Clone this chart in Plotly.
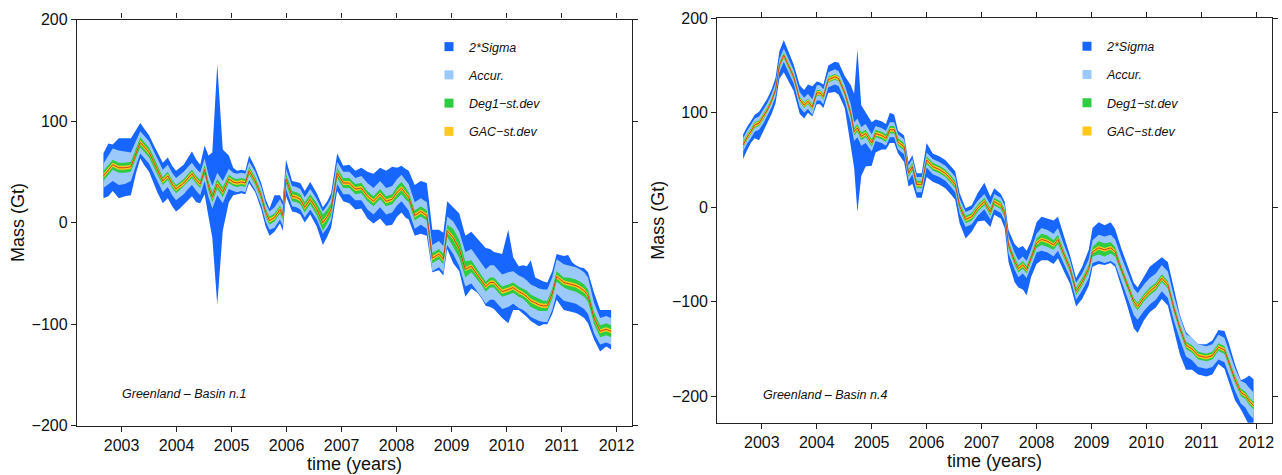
import plotly.graph_objects as go

# ---------------- Basin n.1 (left panel) ----------------
t1 = [2002.67, 2002.76, 2002.84, 2002.95, 2003.06, 2003.17, 2003.26, 2003.34, 2003.42, 2003.50,
      2003.58, 2003.65, 2003.75, 2003.84, 2003.92, 2003.99, 2004.06, 2004.13, 2004.21, 2004.28,
      2004.36, 2004.43, 2004.51, 2004.58, 2004.65, 2004.74, 2004.84, 2004.95, 2005.03, 2005.10,
      2005.18, 2005.25, 2005.32, 2005.43, 2005.54, 2005.62, 2005.69, 2005.78, 2005.88, 2005.93,
      2005.99, 2006.10, 2006.18, 2006.25, 2006.33, 2006.43, 2006.55, 2006.66, 2006.74, 2006.81,
      2006.92, 2007.03, 2007.14, 2007.25, 2007.36, 2007.47, 2007.58, 2007.70, 2007.81, 2007.92,
      2008.01, 2008.09, 2008.16, 2008.22, 2008.33, 2008.44, 2008.55, 2008.65, 2008.77, 2008.85,
      2008.92, 2009.03, 2009.14, 2009.25, 2009.36, 2009.47, 2009.55, 2009.62, 2009.70, 2009.77,
      2009.85, 2009.92, 2010.03, 2010.12, 2010.22, 2010.30, 2010.37, 2010.44, 2010.52, 2010.59,
      2010.67, 2010.74, 2010.83, 2010.91, 2011.04, 2011.12, 2011.19, 2011.26, 2011.33, 2011.41,
      2011.48, 2011.59, 2011.70, 2011.81, 2011.90]
mass1 = [46, 52, 57, 54, 54, 55, 68, 79, 74, 69,
         60, 52, 41, 46, 38, 33, 36, 39, 44, 48,
         42, 38, 52, 36, 25, 38, 30, 43, 40, 39,
         40, 39, 51, 41, 26, 10, 2, 5, 13, 7,
         43, 26, 25, 23, 15, 23, 13, 0, 6, 13,
         49, 39, 39, 33, 34, 26, 21, 28, 21, 23,
         30, 34, 29, 25, 7, 11, 7, -35, -31, -36,
         -8, -15, -26, -46, -43, -51, -57, -63, -59, -59,
         -64, -68, -66, -64, -68, -70, -73, -77, -79, -81,
         -82, -82, -70, -53, -59, -60, -61, -62, -64, -67,
         -72, -94, -107, -105, -107]
gac1 = [2] * 105
deg1_1 = [5, 5, 5, 5, 5, 5, 5, 5, 5, 5,
          5, 5, 4, 4, 4, 4, 4, 4, 4, 4,
          4, 4, 5, 5, 5, 5, 5, 4, 4, 4,
          4, 4, 4, 4, 4, 4, 4, 4, 4, 4,
          5, 5, 5, 5, 5, 5, 6, 8, 7, 6,
          5, 5, 5, 5, 5, 5, 5, 5, 5, 5,
          6, 6, 6, 5, 5, 5, 5, 5, 5, 5,
          6, 9, 9, 8, 6, 5, 5, 5, 5, 5,
          5, 5, 5, 5, 5, 5, 6, 6, 6, 6,
          5, 5, 5, 5, 5, 6, 6, 6, 6, 6,
          6, 6, 6, 6, 6]
acc1 = [12, 14, 16, 17, 16, 14, 12, 11, 11, 11,
        11, 11, 11, 11, 11, 11, 11, 11, 11, 11,
        11, 11, 11, 11, 11, 11, 11, 10, 9, 9,
        9, 9, 9, 9, 9, 9, 9, 10, 10, 10,
        10, 10, 10, 10, 10, 10, 10, 11, 11, 11,
        11, 11, 11, 11, 12, 13, 13, 13, 13, 13,
        13, 13, 13, 13, 13, 13, 13, 13, 13, 13,
        14, 16, 17, 17, 17, 17, 17, 17, 17, 17,
        17, 17, 17, 16, 16, 16, 16, 16, 16, 16,
        16, 16, 16, 17, 18, 18, 18, 18, 18, 18,
        18, 15, 13, 13, 13]
sig_up1 = [22, 26, 20, 29, 29, 28, 23, 19, 18, 17,
           17, 17, 18, 18, 18, 18, 18, 18, 20, 22,
           20, 19, 24, 30, 44, 118, 42, 23, 14, 12,
           12, 12, 15, 13, 13, 13, 12, 22, 14, 14,
           19, 15, 15, 16, 16, 17, 16, 15, 15, 16,
           19, 17, 18, 18, 20, 24, 27, 26, 30, 32,
           24, 22, 24, 26, 30, 30, 32, 28, 24, 26,
           29, 30, 35, 33, 34, 35, 36, 38, 33, 30,
           34, 37, 59, 30, 25, 28, 30, 40, 25, 25,
           24, 23, 22, 22, 26, 28, 22, 20, 20, 22,
           23, 25, 21, 19, 21]
sig_dn1 = [22, 26, 26, 30, 28, 28, 20, 16, 18, 19,
           20, 22, 22, 22, 22, 22, 22, 22, 22, 22,
           22, 19, 24, 30, 40, 119, 38, 23, 13, 11,
           11, 11, 12, 11, 13, 14, 15, 14, 14, 15,
           17, 15, 15, 15, 15, 15, 17, 22, 20, 18,
           18, 18, 20, 20, 20, 22, 22, 24, 24, 25,
           24, 24, 24, 22, 20, 22, 20, 14, 16, 16,
           18, 25, 22, 27, 22, 18, 18, 19, 24, 26,
           26, 26, 33, 22, 18, 20, 20, 20, 21, 21,
           18, 18, 20, 23, 27, 27, 27, 27, 27, 27,
           27, 21, 20, 17, 18]

# ---------------- Basin n.4 (right panel) ----------------
t4 = [2002.66, 2002.73, 2002.80, 2002.87, 2002.95, 2003.03, 2003.10, 2003.18, 2003.25, 2003.32,
      2003.40, 2003.47, 2003.58, 2003.69, 2003.77, 2003.84, 2003.92, 2004.00, 2004.06, 2004.12,
      2004.21, 2004.33, 2004.40, 2004.51, 2004.62, 2004.68, 2004.74, 2004.81, 2004.89, 2005.00,
      2005.07, 2005.18, 2005.26, 2005.33, 2005.41, 2005.48, 2005.59, 2005.67, 2005.74, 2005.82,
      2005.91, 2006.00, 2006.11, 2006.23, 2006.34, 2006.45, 2006.52, 2006.60, 2006.71, 2006.82,
      2006.93, 2007.05, 2007.16, 2007.23, 2007.35, 2007.42, 2007.49, 2007.60, 2007.67, 2007.75,
      2007.82, 2007.90, 2008.00, 2008.09, 2008.20, 2008.31, 2008.39, 2008.50, 2008.61, 2008.72,
      2008.83, 2008.95, 2009.02, 2009.13, 2009.24, 2009.35, 2009.43, 2009.54, 2009.65, 2009.77,
      2009.84, 2009.95, 2010.06, 2010.17, 2010.28, 2010.39, 2010.50, 2010.61, 2010.72, 2010.83,
      2010.94, 2011.09, 2011.20, 2011.31, 2011.42, 2011.50, 2011.61, 2011.72, 2011.80, 2011.87,
      2011.95]
mass4 = [66, 74, 80, 87, 89, 96, 103, 113, 124, 150,
         161, 152, 138, 114, 108, 112, 106, 121, 121, 117,
         135, 138, 136, 121, 99, 80, 84, 75, 78, 68,
         78, 76, 73, 82, 82, 69, 64, 36, 43, 24,
         24, 50, 43, 40, 36, 29, 24, 1, -13, -10,
         -1, 6, -5, 6, 2, -6, -40, -57, -65, -61,
         -66, -54, -38, -34, -36, -40, -34, -50, -65, -89,
         -79, -65, -47, -43, -45, -43, -47, -65, -82, -100,
         -105, -96, -89, -84, -75, -82, -107, -128, -146, -150,
         -157, -159, -157, -148, -151, -164, -182, -196, -199, -205,
         -210]
gac4 = [2] * 101
deg1_4 = [3, 3, 3, 3, 3, 3, 3, 3, 3, 3,
          3, 3, 3, 3, 3, 3, 3, 3, 3, 3,
          3, 3, 3, 3, 4, 4, 4, 4, 4, 4,
          4, 4, 4, 4, 4, 4, 4, 4, 4, 4,
          4, 4, 4, 4, 4, 4, 4, 4, 4, 4,
          4, 4, 4, 4, 4, 4, 4, 4, 4, 4,
          4, 4, 5, 6, 6, 5, 5, 4, 4, 4,
          4, 4, 5, 7, 7, 6, 5, 4, 4, 4,
          4, 4, 4, 4, 4, 4, 4, 4, 4, 4,
          4, 4, 4, 4, 4, 4, 4, 4, 4, 4,
          4]
acc4 = [7, 7, 7, 7, 7, 7, 7, 7, 7, 7,
        7, 7, 7, 8, 8, 8, 8, 8, 8, 8,
        8, 8, 8, 8, 10, 10, 10, 10, 10, 9,
        8, 8, 8, 8, 8, 8, 8, 8, 8, 8,
        8, 8, 8, 8, 8, 8, 8, 8, 8, 8,
        8, 8, 8, 8, 8, 8, 9, 9, 9, 9,
        9, 9, 10, 12, 12, 12, 12, 10, 9, 9,
        9, 10, 12, 14, 14, 14, 13, 13, 13, 14,
        14, 14, 14, 14, 14, 14, 13, 12, 12, 12,
        12, 12, 12, 13, 13, 13, 12, 12, 13, 14,
        14]
sig_up4 = [11, 11, 11, 11, 12, 12, 12, 12, 13, 15,
           16, 15, 13, 15, 16, 18, 22, 12, 11, 13,
           15, 16, 17, 18, 30, 40, 83, 33, 22, 22,
           15, 15, 15, 18, 16, 12, 12, 12, 12, 12,
           12, 18, 14, 14, 14, 14, 14, 14, 12, 12,
           16, 20, 16, 14, 12, 12, 16, 18, 22, 20,
           20, 18, 22, 24, 24, 26, 24, 20, 14, 14,
           16, 20, 25, 27, 26, 27, 24, 22, 22, 20,
           20, 22, 26, 26, 22, 24, 22, 14, 14, 12,
           12, 14, 16, 18, 20, 20, 16, 13, 18, 27,
           28]
sig_dn4 = [15, 14, 12, 14, 18, 16, 14, 14, 14, 14,
           18, 16, 15, 15, 14, 12, 10, 12, 12, 12,
           14, 16, 17, 16, 35, 38, 89, 42, 35, 24,
           20, 15, 12, 14, 14, 12, 16, 14, 18, 14,
           14, 18, 16, 16, 16, 16, 16, 18, 20, 16,
           14, 20, 16, 14, 14, 16, 18, 22, 20, 26,
           27, 20, 22, 22, 20, 20, 20, 18, 16, 16,
           18, 18, 16, 17, 16, 16, 16, 18, 22, 28,
           28, 24, 22, 22, 22, 22, 24, 28, 26, 22,
           20, 20, 20, 18, 20, 22, 22, 18, 24, 26,
           26]

# ---------------- styling ----------------
C_SIG = "#1766ff"
C_ACC = "#9cc9fb"
C_DEG = "#2ecc40"
C_GAC = "#ffc81a"
C_LINE = "#c8401e"
FONT = "Liberation Sans, Arial, Helvetica, sans-serif"
legend_names = ["<i>2*Sigma</i>", "<i>Accur.</i>", "<i>Deg1\u2212st.dev</i>", "<i>GAC\u2212st.dev</i>"]
legend_colors = [C_SIG, C_ACC, C_DEG, C_GAC]

fig = go.Figure()


def add_panel(t, m, gac, deg, acc, sup, sdn, xa, ya, leg):
    rev = t[::-1]
    bands = [
        ([a + u for a, u in zip(m, sup)], [a - d for a, d in zip(m, sdn)], C_SIG),
        ([a + w for a, w in zip(m, acc)], [a - w for a, w in zip(m, acc)], C_ACC),
        ([a + w for a, w in zip(m, deg)], [a - w for a, w in zip(m, deg)], C_DEG),
        ([a + w for a, w in zip(m, gac)], [a - w for a, w in zip(m, gac)], C_GAC),
    ]
    for up, lo, col in bands:
        fig.add_trace(go.Scatter(
            x=t + rev, y=up + lo[::-1], fill="toself", fillcolor=col,
            line=dict(width=0, color=col), mode="lines", hoverinfo="skip",
            showlegend=False, xaxis=xa, yaxis=ya))
    fig.add_trace(go.Scatter(x=t, y=m, mode="lines", line=dict(color=C_LINE, width=1),
                             showlegend=False, xaxis=xa, yaxis=ya))
    for i, (nm, col) in enumerate(zip(legend_names, legend_colors)):
        fig.add_trace(go.Scatter(
            x=[None], y=[None], mode="markers", name=nm,
            marker=dict(symbol="square", size=9, color=col),
            legend=leg, legendgroup=f"{leg}{i}", xaxis=xa, yaxis=ya))


add_panel(t1, mass1, gac1, deg1_1, acc1, sig_up1, sig_dn1, "x", "y", "legend")
add_panel(t4, mass4, gac4, deg1_4, acc4, sig_up4, sig_dn4, "x2", "y2", "legend2")

W, H = 1282, 475
years = list(range(2003, 2013))

axis_common = dict(
    showgrid=False, zeroline=False, showline=True, linecolor="#222", linewidth=1.3,
    mirror="ticks", ticks="outside", ticklen=5, tickwidth=1, tickcolor="#222",
    tickfont=dict(family=FONT, size=16, color="#111"), automargin=False,
)

xcommon = dict(axis_common, tickvals=years, range=[2002.19, 2012.28],
               title=dict(text="time (years)", font=dict(family=FONT, size=18, color="#111"), standoff=1))
ycommon = dict(axis_common, tickvals=[-200, -100, 0, 100, 200],
               title=dict(text="Mass (Gt)", font=dict(family=FONT, size=18, color="#111"), standoff=2))

fig.update_layout(
    width=W, height=H,
    margin=dict(l=0, r=0, t=0, b=0),
    paper_bgcolor="white", plot_bgcolor="white",
    font=dict(family=FONT, color="#111"),
    xaxis=dict(xcommon, domain=[77 / W, 632 / W], anchor="y"),
    yaxis=dict(ycommon, domain=[49.3 / H, 455.5 / H], range=[-200, 200], anchor="x"),
    xaxis2=dict(xcommon, domain=[717.3 / W, 1271.7 / W], anchor="y2"),
    yaxis2=dict(ycommon, domain=[52.3 / H, 457.3 / H], range=[-228, 200.6], anchor="x2"),
    legend=dict(x=429 / W, y=1 - 32 / H, xanchor="left", yanchor="top",
                bgcolor="rgba(0,0,0,0)", font=dict(family=FONT, size=12.5, color="#111"),
                tracegroupgap=9, itemclick=False),
    legend2=dict(x=1067 / W, y=1 - 31.5 / H, xanchor="left", yanchor="top",
                 bgcolor="rgba(0,0,0,0)", font=dict(family=FONT, size=12.5, color="#111"),
                 tracegroupgap=9, itemclick=False),
    annotations=[
        dict(text="<i>Greenland \u2013 Basin n.1</i>", x=2002.98, y=-169, xref="x", yref="y",
             xanchor="left", yanchor="middle", showarrow=False,
             font=dict(family=FONT, size=12.5, color="#111")),
        dict(text="<i>Greenland \u2013 Basin n.4</i>", x=2002.98, y=-199, xref="x2", yref="y2",
             xanchor="left", yanchor="middle", showarrow=False,
             font=dict(family=FONT, size=12.5, color="#111")),
    ],
)

fig.write_html("out.html", config={"displayModeBar": False},
               post_script="document.body.style.margin='0';document.body.style.overflow='hidden';")
